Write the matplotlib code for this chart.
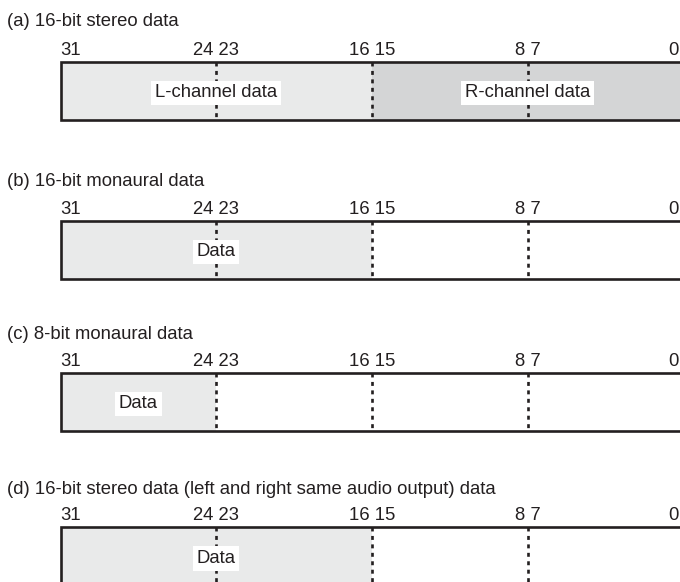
import numpy as np
import matplotlib.pyplot as plt
from matplotlib.transforms import offset_copy

###############################################################################
plt.rcParams['font.family'] = ['Liberation Sans', 'DejaVu Sans']
INK = '#231f20'
FONT_SIZE = 13.3
###############################################################################
# data : 32-bit register layouts
panel_titles = ['(a) 16-bit stereo data',
                '(b) 16-bit monaural data',
                '(c) 8-bit monaural data',
                '(d) 16-bit stereo data (left and right same audio output) data']
field_names = [['L-channel data', 'R-channel data'], ['Data'], ['Data'], ['Data']]
field_msb = [[31, 15], [31], [31], [31]]
field_lsb = [[16, 0], [16], [24], [16]]
field_colors = [['#e9eaea', '#d4d5d6'], ['#e9eaea'], ['#e9eaea'], ['#e9eaea']]

bit_labels = ['31', '24 23', '16 15', '8 7', '0']
bit_marks = [32, 24, 16, 8, 0]
divider_bits = [24, 16, 8]
###############################################################################
# layout (pixels from the top of the figure)
box_top = [61.5, 220.5, 372.7, 527.3]
title_base = [26, 186, 339, 494]
label_base = [55, 214.3, 366, 520]
BOX_H = 58.5

fig = plt.figure(figsize=(6.8, 5.82), dpi=100)
ax = fig.add_axes([0, 0, 1, 1])
# x axis in bits (msb on the left), y axis in pixels
px_per_bit = 19.46
ax.set_xlim(32 + 60.5 / px_per_bit, 32 - 619.5 / px_per_bit)
ax.set_ylim(582, 0)
ax.axis('off')

title_trans = ax.get_yaxis_transform()  # x in axes fraction, y in pixels
# the lsb label sits at the clipped right edge, pull it in a little
last_trans = offset_copy(ax.transData, fig=fig, x=-4.5, y=0, units='dots')

for p in range(len(panel_titles)):
    top = box_top[p]
    yc = top + BOX_H / 2

    ax.text(7 / 680, title_base[p], panel_titles[p], transform=title_trans,
            ha='left', va='baseline', fontsize=FONT_SIZE, color=INK)

    # bit numbers above the box
    for lab, b in zip(bit_labels, bit_marks):
        ha, trans = 'center', ax.transData
        if b == max(bit_marks):
            ha = 'left'
        elif b == min(bit_marks):
            ha, trans = 'right', last_trans
        ax.text(b, label_base[p], lab, ha=ha, va='baseline', transform=trans,
                fontsize=FONT_SIZE, color=INK)

    # filled fields
    for name, msb, lsb, col in zip(field_names[p], field_msb[p], field_lsb[p], field_colors[p]):
        ax.barh(yc, msb + 1 - lsb, left=lsb, height=BOX_H, color=col,
                edgecolor='none', zorder=1)

    # byte dividers
    ax.vlines(divider_bits, top, top + BOX_H, colors=INK, linewidth=1.9,
              linestyles=(0, (1.5, 1.7)), zorder=2)

    # outline of the register
    ax.barh(yc, 32, left=0, height=BOX_H, color='none', edgecolor=INK,
            linewidth=1.9, zorder=3)

    # field names
    for name, msb, lsb in zip(field_names[p], field_msb[p], field_lsb[p]):
        ax.text((msb + 1 + lsb) / 2, top + 31.3, name, ha='center', va='center',
                fontsize=FONT_SIZE, color=INK, zorder=4,
                bbox=dict(boxstyle='square,pad=0.2', facecolor='white', edgecolor='none'))

plt.savefig('out.png', dpi=100)
